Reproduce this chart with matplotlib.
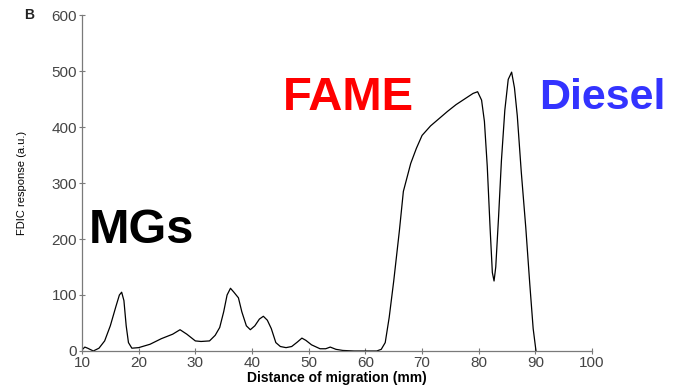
import matplotlib
matplotlib.use('Agg')
import matplotlib.pyplot as plt

plt.rcParams['font.family'] = ['Liberation Sans', 'DejaVu Sans']

# densitometric scan of the HPTLC plate (FDIC detection)
distance_mm = [10, 10.5, 11, 12, 13, 14, 15, 16, 16.6, 17, 17.4, 17.8, 18.2, 18.8,
               20, 22, 24, 26, 27.3, 28.5, 30, 31, 32.5, 33.5, 34.3, 35, 35.6, 36.2,
               36.8, 37.6, 38.2, 39, 39.7, 40.5, 41.3, 42, 42.7, 43.4, 44.2, 45, 46,
               47, 48, 48.8, 49.5, 50.5, 52, 53, 53.8, 54.8, 56, 58, 60, 62, 62.8,
               63.5, 64.2, 65, 66, 66.7, 68, 69, 70, 71.5, 73, 74.5, 76, 77.5, 79,
               79.8, 80.5, 81, 81.5, 82, 82.4, 82.7, 83, 83.5, 84, 84.6, 85.2, 85.8,
               86.3, 86.8, 87.5, 88.3, 89, 89.6, 90.1]
response = [2, 7, 5, 0, 5, 18, 45, 80, 100, 105, 90, 45, 15, 5,
            6, 12, 22, 30, 38, 30, 18, 17, 18, 28, 42, 70, 100, 112,
            105, 95, 70, 45, 38, 45, 57, 62, 55, 40, 15, 8, 6,
            8, 16, 23, 19, 11, 4, 4, 7, 3, 1, 0, 0, 0, 3,
            15, 60, 125, 215, 285, 335, 362, 385, 402, 415, 428, 440, 450, 460,
            463, 448, 410, 330, 220, 140, 125, 150, 240, 340, 430, 485, 498,
            470, 420, 320, 220, 120, 40, 0]

x_ticks = [10, 20, 30, 40, 50, 60, 70, 80, 90, 100]
y_ticks = [0, 100, 200, 300, 400, 500, 600]

labels = ['MGs', 'FAME', 'Diesel']
label_pos = [(11.2, 216), (45.4, 452), (90.7, 452)]
label_colors = ['black', '#ff0000', '#3333ff']
label_sizes = [35, 34, 31]

fig = plt.figure(figsize=(6.82, 3.89), dpi=100)
ax = fig.add_axes([0.1202, 0.0977, 0.748, 0.8637])

ax.plot(distance_mm, response, color='black', lw=0.9)

ax.set_xlim(10, 100)
ax.set_ylim(0, 600)
ax.set_xticks(x_ticks)
ax.set_yticks(y_ticks)

for side in ['top', 'right']:
    ax.spines[side].set_visible(False)
for side in ['left', 'bottom']:
    ax.spines[side].set_color('#7a7a7a')
    ax.spines[side].set_linewidth(0.9)

ax.tick_params(direction='inout', length=5, width=0.8, color='#7a7a7a',
               labelcolor='#444444', labelsize=11, pad=1)

ax.set_xlabel('Distance of migration (mm)', fontsize=10, fontweight='bold', labelpad=1)
ax.set_ylabel('FDIC response (a.u.)', fontsize=8, labelpad=18)

for txt, (lx, ly), c, s in zip(labels, label_pos, label_colors, label_sizes):
    ax.text(lx, ly, txt, color=c, fontsize=s, fontweight='bold', va='center', ha='left')

fig.text(0.035, 0.962, 'B', fontsize=10, fontweight='bold', color='#222222', va='center')

fig.savefig('out.png', dpi=100)
